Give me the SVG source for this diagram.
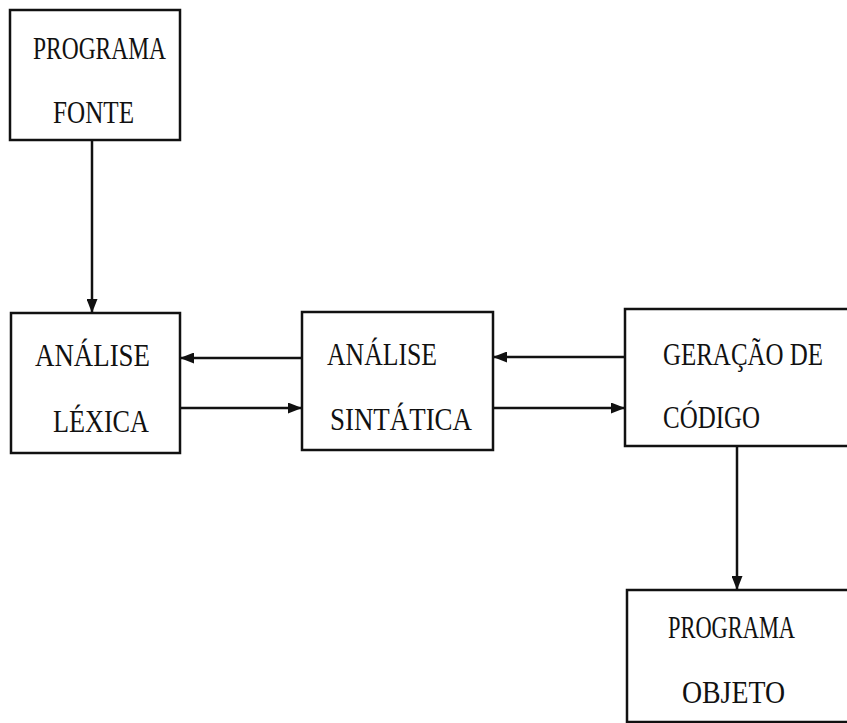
<svg xmlns="http://www.w3.org/2000/svg" width="847" height="723" viewBox="0 0 847 723">
  <defs>
    <style>
      .box { fill: #ffffff; stroke: #111111; stroke-width: 2.5; }
      .lbl { font-family: "Liberation Serif", "DejaVu Serif", serif; font-size: 25px; fill: #111111; }
      .wire { stroke: #111111; stroke-width: 2.5; fill: none; }
    </style>
    <marker id="head" viewBox="0 0 14 11" refX="14" refY="5.5" markerWidth="14" markerHeight="11" markerUnits="userSpaceOnUse" orient="auto">
      <path d="M0,0 L14,5.5 L0,11 Z" fill="#111111"/>
    </marker>
  </defs>
  <rect width="847" height="723" fill="#ffffff"/>

  <!-- labels use a narrow typewriter look: 25px type stretched vertically -->
  <g id="programa-fonte">
    <rect class="box" x="10" y="10" width="170" height="130"/>
    <text class="lbl" transform="translate(33,59) scale(1,1.27)" textLength="133" lengthAdjust="spacingAndGlyphs">PROGRAMA</text>
    <text class="lbl" transform="translate(53,123) scale(1,1.27)" textLength="81" lengthAdjust="spacingAndGlyphs">FONTE</text>
  </g>

  <g id="analise-lexica">
    <rect class="box" x="11" y="313" width="169" height="140"/>
    <text class="lbl" transform="translate(35,366) scale(1,1.27)" textLength="115" lengthAdjust="spacingAndGlyphs">ANÁLISE</text>
    <text class="lbl" transform="translate(53,432) scale(1,1.27)" textLength="96" lengthAdjust="spacingAndGlyphs">LÉXICA</text>
  </g>

  <g id="analise-sintatica">
    <rect class="box" x="302" y="312" width="191" height="138"/>
    <text class="lbl" transform="translate(327,365) scale(1,1.27)" textLength="110" lengthAdjust="spacingAndGlyphs">ANÁLISE</text>
    <text class="lbl" transform="translate(330,430) scale(1,1.27)" textLength="142" lengthAdjust="spacingAndGlyphs">SINTÁTICA</text>
  </g>

  <!-- right-hand boxes run past the page edge, so no right side is drawn -->
  <g id="geracao-codigo">
    <path class="box" d="M849,309 H625 V446 H849"/>
    <text class="lbl" transform="translate(663,365) scale(1,1.27)" textLength="160" lengthAdjust="spacingAndGlyphs">GERAÇÃO DE</text>
    <text class="lbl" transform="translate(663,428) scale(1,1.27)" textLength="97" lengthAdjust="spacingAndGlyphs">CÓDIGO</text>
  </g>

  <g id="programa-objeto">
    <path class="box" d="M849,590 H627 V722 H849"/>
    <text class="lbl" transform="translate(668,638) scale(1,1.27)" textLength="127" lengthAdjust="spacingAndGlyphs">PROGRAMA</text>
    <text class="lbl" transform="translate(682,703) scale(1,1.27)" textLength="103" lengthAdjust="spacingAndGlyphs">OBJETO</text>
  </g>

  <g id="connectors">
    <line class="wire" x1="92" y1="140" x2="92" y2="313" marker-end="url(#head)"/>
    <line class="wire" x1="302" y1="358" x2="180" y2="358" marker-end="url(#head)"/>
    <line class="wire" x1="180" y1="408" x2="302" y2="408" marker-end="url(#head)"/>
    <line class="wire" x1="625" y1="357" x2="493" y2="357" marker-end="url(#head)"/>
    <line class="wire" x1="493" y1="408" x2="625" y2="408" marker-end="url(#head)"/>
    <line class="wire" x1="737" y1="446" x2="737" y2="590" marker-end="url(#head)"/>
  </g>
</svg>
